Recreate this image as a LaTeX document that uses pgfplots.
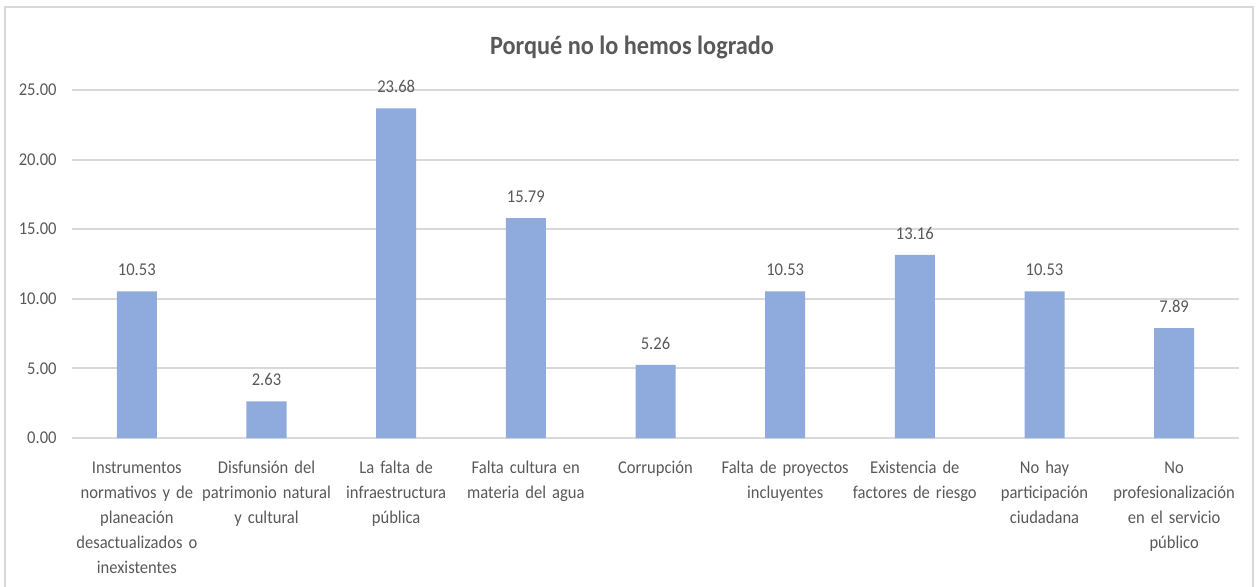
\documentclass[border=0pt]{standalone}
\usepackage{fontspec}
\setmainfont[FakeStretch=0.92]{Carlito}
\usepackage{pgfplots}
\pgfplotsset{compat=1.18}
\definecolor{txtgray}{HTML}{595959}
\definecolor{gridgray}{HTML}{D9D9D9}
\definecolor{barblue}{HTML}{8FAADC}
\begin{document}
\begin{tikzpicture}
\useasboundingbox (0,0) rectangle (629.5pt,293pt);
% chart frame
\draw[gridgray, line width=0.8pt] (2.5pt,-2pt) -- (2.5pt,289.5pt) -- (626.5pt,289.5pt) -- (626.5pt,-2pt);
\node[anchor=base, font=\fontsize{13.2}{15}\selectfont\bfseries, text=txtgray] at (316pt,266pt) {Porqué no lo hemos logrado};
\begin{axis}[
  at={(36pt,74pt)}, anchor=south west,
  scale only axis, width=583.5pt, height=174pt,
  ybar, bar width=20pt,
  xmin=-0.5, xmax=8.5, ymin=0, ymax=25,
  xtick={0,...,8}, ytick={0,5,...,25},
  xticklabels={
    {\strut Instrumentos\\normativos y de\\planeación\\desactualizados o\\inexistentes},
    {\strut Disfunsión del\\patrimonio natural\\y cultural},
    {\strut La falta de\\infraestructura\\pública},
    {\strut Falta cultura en\\materia del agua},
    {\strut Corrupción},
    {\strut Falta de proyectos\\incluyentes},
    {\strut Existencia de\\factores de riesgo},
    {\strut No hay\\participación\\ciudadana},
    {\strut No\\profesionalización\\en el servicio\\público}},
  /pgf/number format/assume math mode=true,
  /pgf/number format/fixed,
  /pgf/number format/fixed zerofill,
  /pgf/number format/precision=2,
  yticklabel style={anchor=east, inner sep=0pt, xshift=-7.5pt, font=\fontsize{9}{11}\selectfont, text=txtgray},
  xticklabel style={anchor=north, inner sep=0pt, yshift=-4.5pt, text width=80pt, align=center,
    font=\fontsize{9}{12.5}\selectfont, text=txtgray},
  axis line style={draw=none}, tick style={draw=none},
  ymajorgrids, grid style={gridgray, line width=1pt},
  nodes near coords,
  every node near coord/.append style={anchor=south, inner sep=0pt, yshift=7.5pt,
    font=\fontsize{9}{11}\selectfont, text=txtgray},
  clip=false,
]
\addplot[fill=barblue, draw=none] coordinates {
  (0,10.53) (1,2.63) (2,23.68) (3,15.79) (4,5.26) (5,10.53) (6,13.16) (7,10.53) (8,7.89)};
\end{axis}
\end{tikzpicture}
\end{document}
